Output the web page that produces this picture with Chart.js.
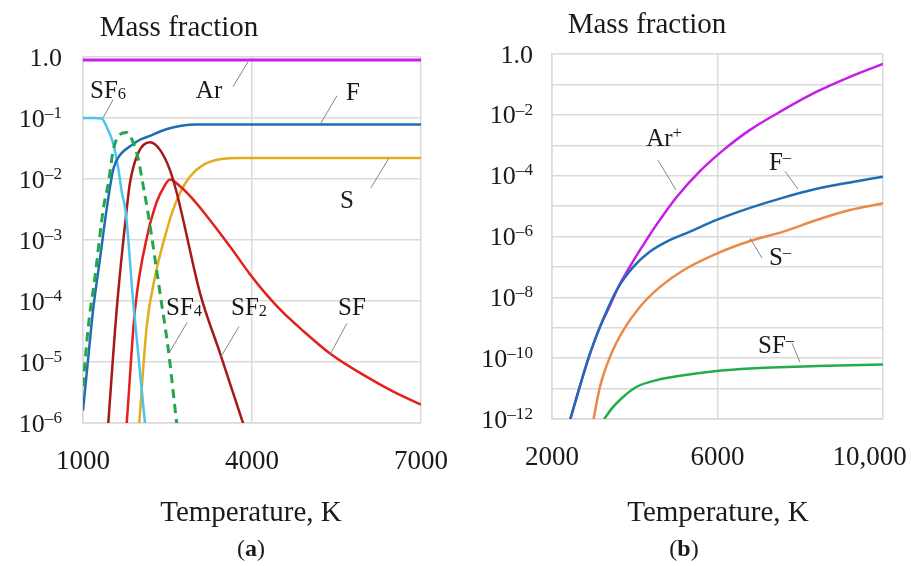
<!DOCTYPE html>
<html>
<head>
<meta charset="utf-8">
<script src="https://cdn.jsdelivr.net/npm/chart.js@4"></script>
<style>
  body { margin: 0; background: #fff; width: 911px; height: 566px; position: relative; overflow: hidden; }
  canvas { position: absolute; top: 0; }
  #chartA { left: 0; }
  #chartB { left: 455px; }
</style>
</head>
<body>
<canvas id="chartA" width="500" height="566"></canvas>
<canvas id="chartB" width="520" height="566"></canvas>
<script>
// ---- (a) neutral species, mass fraction vs temperature (K)
const arT = [1000, 7000];
const arV = [0.89, 0.89];
const sf6T = [1000, 1200, 1330, 1440, 1530, 1620, 1690, 1760, 1890, 2000, 2100, 2150];
const sf6V = [0.1, 0.1, 0.098, 0.065, 0.040, 0.0162, 0.0060, 0.0028, 1.0e-4, 8.9e-6, 1.0e-6, 3.2e-7];
const fT = [1000, 1090, 1180, 1300, 1420, 1540, 1660, 1830, 2010, 2190, 2370, 2540, 2720, 3020, 7000];
const fV = [1.6e-6, 1.1e-5, 7.2e-5, 4.8e-4, 3.2e-3, 0.0148, 0.025, 0.034, 0.044, 0.051, 0.060, 0.068, 0.074, 0.078, 0.078];
const sf4T = [1000, 1094, 1213, 1360, 1449, 1538, 1657, 1776, 1893, 1982, 2070, 2159, 2367, 2514, 2663, 2730];
const sf4V = [4.0e-6, 3.8e-5, 2.5e-4, 3.2e-3, 8.5e-3, 0.030, 0.054, 0.058, 0.039, 0.021, 7.6e-3, 2.6e-3, 1.35e-4, 1.6e-5, 1.0e-6, 3.2e-7];
const sf2T = [1400, 1449, 1598, 1776, 1834, 1982, 2189, 2367, 2544, 2663, 2750, 3077, 3432, 3840, 3900];
const sf2V = [2.5e-7, 1.0e-6, 7.2e-5, 3.2e-3, 8.7e-3, 0.027, 0.040, 0.030, 0.014, 6.0e-3, 2.8e-3, 1.35e-4, 1.4e-5, 1.0e-6, 6.8e-7];
const sfT = [1700, 1776, 1923, 2159, 2248, 2308, 2425, 2544, 2722, 2958, 3224, 3500, 3668, 3964, 4261, 4550, 4852, 5384, 6023, 6500, 7000];
const sfV = [1.26e-7, 1.0e-6, 7.2e-5, 1.41e-3, 2.8e-3, 4.2e-3, 7.1e-3, 9.8e-3, 7.6e-3, 4.6e-3, 2.3e-3, 1.07e-3, 6.6e-4, 2.75e-4, 1.26e-4, 6.5e-5, 3.6e-5, 1.38e-5, 5.8e-6, 3.3e-6, 2.0e-6];
const sT = [1950, 1999, 2131, 2278, 2456, 2589, 2722, 2900, 3135, 3432, 3787, 7000];
const sV = [2.5e-7, 1.0e-6, 3.8e-5, 2.5e-4, 1.15e-3, 2.95e-3, 5.9e-3, 0.011, 0.017, 0.021, 0.022, 0.022];

// ---- (b) charged species
const arPlusT = [2435, 2718, 2918, 3160, 3402, 3644, 3965, 4289, 4531, 5014, 5577, 6140, 6786, 7591, 8398, 9203, 10000];
const arPlusV = [9.1e-13, 1.9e-11, 1.4e-10, 1.07e-9, 5.4e-9, 2.8e-8, 1.58e-7, 7.9e-7, 2.5e-6, 2.0e-5, 1.41e-4, 6.9e-4, 3.2e-3, 0.0145, 0.0575, 0.178, 0.47];
const fMinusT = [2435, 2718, 2918, 3160, 3564, 3965, 4369, 4773, 5336, 5980, 6786, 7591, 8398, 9203, 10000];
const fMinusV = [9.1e-13, 1.9e-11, 1.4e-10, 1.07e-9, 1.74e-8, 1.0e-7, 3.2e-7, 6.8e-7, 1.45e-6, 3.5e-6, 8.7e-6, 1.9e-5, 3.7e-5, 6.0e-5, 9.3e-5];
const sMinusT = [2999, 3160, 3402, 3725, 4128, 4611, 5175, 5980, 6786, 7591, 8398, 9203, 10000];
const sMinusV = [9.1e-13, 1.15e-11, 1.1e-10, 8.3e-10, 4.9e-9, 2.2e-8, 7.8e-8, 2.75e-7, 7.1e-7, 1.45e-6, 3.5e-6, 7.4e-6, 1.23e-5];
const sfMinusT = [3241, 3443, 3725, 4047, 4531, 5175, 5980, 6786, 8398, 10000];
const sfMinusV = [9.1e-13, 2.2e-12, 5.4e-12, 1.15e-11, 1.9e-11, 2.75e-11, 3.8e-11, 4.6e-11, 5.5e-11, 6.2e-11];

// ---- ticks
const xTicksA = [1000, 4000, 7000];
const xLabelsA = ["1000", "4000", "7000"];
const yExpA = [0, -1, -2, -3, -4, -5, -6];
const xTicksB = [2000, 6000, 10000];
// trailing spaces pull the last label inside the page, as in the original
const xLabelsB = ["2000", "6000", "10,000\u00a0\u00a0\u00a0\u00a0"];
const yExpB = [0, -1, -2, -3, -4, -5, -6, -7, -8, -9, -10, -11, -12];

const FONT = "'Liberation Serif', 'Times New Roman', serif";
const GRID = "#dadada";
const INK = "#1a1a1a";

function pts(T, V) {
  return T.map((t, i) => ({ x: t, y: V[i] }));
}

function line(label, T, V, color, extra) {
  return Object.assign({
    label: label,
    data: pts(T, V),
    borderColor: color,
    borderWidth: 2.5,
    pointRadius: 0,
    cubicInterpolationMode: "monotone",
    fill: false,
  }, extra || {});
}

// "1.0" or 10 with a superscript exponent
function decadeParts(value) {
  const e = Math.round(Math.log10(value));
  if (e === 0) return [["1.0", ""]];
  return [["10", ""], ["–" + Math.abs(e), "sup"]];
}

function scales(xTicks, xLabels, yExp, labelEvery, yWidth, yPad) {
  return {
    x: {
      type: "linear",
      min: xTicks[0],
      max: xTicks[xTicks.length - 1],
      afterBuildTicks: (s) => { s.ticks = xTicks.map((v) => ({ value: v })); },
      afterFit: (s) => { s.height = 60; },
      ticks: {
        padding: 23,
        maxRotation: 0,
        color: INK,
        font: { family: FONT, size: 27 },
        callback: (v) => xLabels[xTicks.indexOf(v)],
      },
      grid: { color: GRID, lineWidth: 1.5, drawTicks: false },
      border: { color: GRID, width: 1.5 },
    },
    y: {
      type: "logarithmic",
      min: Math.pow(10, yExp[yExp.length - 1]),
      max: 1,
      afterBuildTicks: (s) => { s.ticks = yExp.map((e) => ({ value: Math.pow(10, e) })); },
      afterFit: (s) => { s.width = yWidth; },
      // labels are drawn by the notes plugin so the exponents can be real superscripts
      ticks: { display: false, labelEvery: labelEvery, labelPad: yPad },
      grid: { color: GRID, lineWidth: 1.5, drawTicks: false },
      border: { color: GRID, width: 1.5 },
    },
  };
}

// text with sub/superscripts; align "center" or "right" at (ax, cy)
function drawRich(ctx, parts, ax, cy, size, align) {
  const fontFor = (st) => {
    const s = st === "sub" || st === "sup" ? size * 0.66 : size;
    return (st === "b" ? "bold " : "") + s + "px " + FONT;
  };
  let w = 0;
  parts.forEach((p) => { ctx.font = fontFor(p[1]); w += ctx.measureText(p[0]).width; });
  let x = align === "right" ? ax - w : ax - w / 2;
  const base = cy + size * 0.33;
  ctx.fillStyle = INK;
  ctx.textAlign = "left";
  ctx.textBaseline = "alphabetic";
  parts.forEach((p) => {
    ctx.font = fontFor(p[1]);
    let y = base;
    if (p[1] === "sub") y = base + size * 0.05;
    if (p[1] === "sup") y = base - size * 0.34;
    ctx.fillText(p[0], x, y);
    x += ctx.measureText(p[0]).width;
  });
}

const notesPlugin = {
  id: "notes",
  afterDraw(chart, args, opts) {
    const ctx = chart.ctx;
    const xs = chart.scales.x;
    const ys = chart.scales.y;
    ctx.save();
    // y tick labels from the log scale's own ticks
    const every = ys.options.ticks.labelEvery;
    ys.ticks.forEach((t) => {
      const e = Math.round(Math.log10(t.value));
      if (e % every !== 0) return;
      drawRich(ctx, decadeParts(t.value), xs.left - ys.options.ticks.labelPad, ys.getPixelForValue(t.value), 26, "right");
    });
    ctx.strokeStyle = "#858585";
    ctx.lineWidth = 1;
    (opts.leaders || []).forEach((l) => {
      ctx.beginPath();
      ctx.moveTo(xs.getPixelForValue(l[0]), ys.getPixelForValue(l[1]));
      ctx.lineTo(xs.getPixelForValue(l[2]), ys.getPixelForValue(l[3]));
      ctx.stroke();
    });
    (opts.labels || []).forEach((n) => {
      drawRich(ctx, n.parts, xs.getPixelForValue(n.t), ys.getPixelForValue(n.v), 25, "center");
    });
    (opts.texts || []).forEach((n) => drawRich(ctx, n.parts, n.x, n.y, n.size, "center"));
    ctx.restore();
  },
};

new Chart(document.getElementById("chartA"), {
  type: "line",
  data: {
    datasets: [
      line("SF4", sf4T, sf4V, "#22a84a", { borderDash: [9, 6], borderWidth: 3 }),
      line("Ar", arT, arV, "#c41ee8", { borderWidth: 3 }),
      line("F", fT, fV, "#1f6db2"),
      line("SF6", sf6T, sf6V, "#4cc4ef"),
      line("SF2", sf2T, sf2V, "#a81818"),
      line("SF", sfT, sfV, "#e3201b"),
      line("S", sT, sV, "#e2ac1c"),
    ],
  },
  options: {
    responsive: false,
    animation: false,
    layout: { padding: { top: 57, right: 79, bottom: 83, left: 0 } },
    scales: scales(xTicksA, xLabelsA, yExpA, 1, 83, 21),
    plugins: {
      legend: { display: false },
      tooltip: { enabled: false },
      notes: {
        leaders: [
          [3663, 0.326, 3929, 0.838],
          [1533, 0.20, 1355, 0.10],
          [5509, 0.232, 5207, 0.078],
          [6112, 7.2e-3, 6432, 0.022],
          [2846, 4.4e-5, 2527, 1.4e-5],
          [3769, 3.8e-5, 3450, 1.23e-5],
          [5686, 4.3e-5, 5384, 1.32e-5],
        ],
        labels: [
          { t: 3237, v: 0.29, parts: [["Ar", ""]] },
          { t: 1444, v: 0.29, parts: [["SF", ""], ["6", "sub"]] },
          { t: 5793, v: 0.27, parts: [["F", ""]] },
          { t: 5686, v: 4.6e-3, parts: [["S", ""]] },
          { t: 2793, v: 8.1e-5, parts: [["SF", ""], ["4", "sub"]] },
          { t: 3947, v: 8.1e-5, parts: [["SF", ""], ["2", "sub"]] },
          { t: 5775, v: 8.1e-5, parts: [["SF", ""]] },
        ],
        texts: [
          { x: 179, y: 26, size: 29, parts: [["Mass fraction", ""]] },
          { x: 251, y: 511, size: 29, parts: [["Temperature, K", ""]] },
          { x: 251, y: 548, size: 24, parts: [["(", ""], ["a", "b"], [")", ""]] },
        ],
      },
    },
  },
  plugins: [notesPlugin],
});

new Chart(document.getElementById("chartB"), {
  type: "line",
  data: {
    datasets: [
      line("F−", fMinusT, fMinusV, "#1f6db2"),
      line("Ar+", arPlusT, arPlusV, "#c41ee8"),
      line("S−", sMinusT, sMinusV, "#ea8a48"),
      line("SF−", sfMinusT, sfMinusV, "#22ad4c"),
    ],
  },
  options: {
    responsive: false,
    animation: false,
    layout: { padding: { top: 54, right: 92, bottom: 87, left: 0 } },
    scales: scales(xTicksB, xLabelsB, yExpB, 2, 97, 19),
    plugins: {
      legend: { display: false },
      tooltip: { enabled: false },
      notes: {
        leaders: [
          [4562, 3.2e-4, 4997, 3.4e-5],
          [7632, 1.4e-4, 7946, 3.6e-5],
          [7076, 1.95e-7, 6786, 8.9e-7],
          [7801, 3.1e-10, 7994, 7.4e-11],
        ],
        labels: [
          { t: 4707, v: 1.74e-3, parts: [["Ar", ""], ["+", "sup"]] },
          { t: 7511, v: 2.8e-4, parts: [["F", ""], ["–", "sup"]] },
          { t: 7511, v: 2.1e-7, parts: [["S", ""], ["–", "sup"]] },
          { t: 7414, v: 2.7e-10, parts: [["SF", ""], ["–", "sup"]] },
        ],
        texts: [
          { x: 192, y: 23, size: 29, parts: [["Mass fraction", ""]] },
          { x: 263, y: 511, size: 29, parts: [["Temperature, K", ""]] },
          { x: 229, y: 548, size: 24, parts: [["(", ""], ["b", "b"], [")", ""]] },
        ],
      },
    },
  },
  plugins: [notesPlugin],
});
</script>
</body>
</html>
